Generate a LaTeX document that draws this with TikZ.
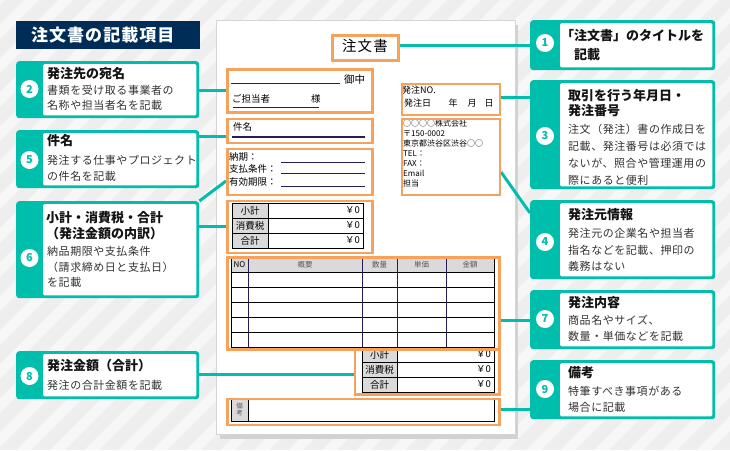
\documentclass[tikz,border=0pt]{standalone}
\usepackage{fontspec}
\setmainfont{Noto Sans CJK JP}
\usetikzlibrary{calc}
\definecolor{teal1}{RGB}{0,190,172}
\definecolor{orange1}{RGB}{247,162,92}
\definecolor{navy1}{RGB}{0,45,88}
\definecolor{lnavy}{RGB}{35,30,90}
\definecolor{bgc}{RGB}{238,238,238}
\definecolor{stripec}{RGB}{247,247,247}
\definecolor{bodyc}{RGB}{50,50,50}
\definecolor{cellgray}{RGB}{218,218,218}
\definecolor{shadowc}{RGB}{210,210,210}
\definecolor{paperedge}{RGB}{212,212,212}
\definecolor{hdrtxt}{RGB}{90,90,90}
\pgfdeclarelayer{bg}
\pgfdeclarelayer{paper}
\pgfdeclarelayer{conns}
\pgfsetlayers{bg,paper,conns,main}

\newcommand\mycallout[8]{%
  \node[tealbox, minimum width=#4, minimum height=#5] (#1) at (#2,#3) {};
  \fill[white, rounded corners=1.5pt] ([xshift=#6, yshift=-3]#1.north west) rectangle ([xshift=-3, yshift=3]#1.south east);
  \node[numcirc] (#1n) at ({#2+#6/2},#8) {#7};
}

\begin{document}
\begin{tikzpicture}[x=1pt,y=-1pt,
  tealbox/.style={draw=none, fill=teal1, rounded corners=3pt, anchor=north west, inner sep=0pt},
  numcirc/.style={circle, fill=white, minimum size=18pt, inner sep=0pt, text=teal1, font=\bfseries\fontsize{11}{11}\selectfont},
  tt/.style={inner sep=0pt, text=black!92, align=left, font=\bfseries\fontsize{13}{#1}\selectfont},
  tt/.default=15,
  bd/.style={inner sep=0pt, text=bodyc, align=left, anchor=north west, font=\fontsize{11}{#1}\selectfont\addfontfeature{LetterSpace=5}},
  obox/.style={draw=orange1, line width=2.5pt, anchor=north west, inner sep=0pt, fill=none},
  conn/.style={draw=teal1, line width=3pt},
  ps/.style={inner sep=0pt, text=black, font=\fontsize{9.5}{11}\selectfont},
  cellt/.style={inner sep=0pt, text=black, font=\fontsize{9.5}{10}\selectfont},
  hdrt/.style={inner sep=0pt, text=hdrtxt, font=\fontsize{7.5}{8}\selectfont},
  navyline/.style={draw=lnavy, line width=1pt},
  tline/.style={draw=black, line width=1pt},
]
\useasboundingbox (0,0) rectangle (730,450);

% background with stripes
\begin{pgfonlayer}{bg}
  \begin{scope}
    \clip (0,0) rectangle (730,450);
    \fill[bgc] (0,0) rectangle (730,450);
    \foreach \i in {-460,-426,...,740} {
      \fill[stripec] (\i,450) -- ({\i+15},450) -- ({\i+465},0) -- ({\i+450},0) -- cycle;
    }
  \end{scope}
\end{pgfonlayer}

% paper
\begin{pgfonlayer}{paper}
  \fill[shadowc] (220,25) rectangle (518,439);
  \fill[white] (216,20) rectangle (515,434);
  \draw[paperedge, line width=0.8pt] (216,20) rectangle (515,434);
\end{pgfonlayer}

% header
\node[fill=navy1, minimum width=184, minimum height=28, anchor=north west, inner sep=0pt] (hdrbox) at (16,21) {};
\node[inner sep=0pt, anchor=west, text=white, font=\bfseries\fontsize{17}{17}\selectfont\addfontfeature{LetterSpace=6}] (hdrtext) at (31,35) {注文書の記載項目};

% callout boxes
\mycallout{box2}{16}{61}{183}{57}{27}{2}{89}
\mycallout{box5}{16}{130}{183}{58}{27}{5}{160}
\mycallout{box6}{16}{201}{183}{97}{27}{6}{258}
\mycallout{box8}{16}{351}{183}{48}{27}{8}{376}
\mycallout{box1}{530}{20}{185}{50}{30}{1}{43}
\mycallout{box3}{530}{80}{185}{109}{30}{3}{136}
\mycallout{box4}{530}{200}{185}{79}{30}{4}{242}
\mycallout{box7}{530}{290}{185}{59}{30}{7}{319}
\mycallout{box9}{530}{360}{185}{59}{30}{9}{389}

% callout texts
\node[tt, anchor=west] (t2) at (47,74) {発注先の宛名};
\node[bd=15] (b2) at (47,85.5) {書類を受け取る事業者の\\名称や担当者名を記載};
\node[tt, anchor=west] (t5) at (47,141) {件名};
\node[bd=16] (b5) at (47,155.5) {発注する仕事やプロジェクト\\の件名を記載};
\node[tt=16, anchor=north west] (t6) at (46,211.5) {小計・消費税・合計\\（発注金額の内訳）};
\node[bd=15.5] (b6) at (47,246.5) {納品期限や支払条件\\（請求締め日と支払日）\\を記載};
\node[tt, anchor=west] (t8) at (47,366) {発注金額（合計）};
\node[bd=15, anchor=west] (b8) at (47,385) {発注の合計金額を記載};

\node[tt=19, anchor=north west] (t1) at (561,29.5) {「注文書」のタイトルを\\　記載};
\node[tt=15, anchor=north west] (t3) at (568,89.5) {取引を行う年月日・\\発注番号};
\node[bd=17] (b3) at (568,123.5) {注文（発注）書の作成日を\\記載、発注番号は必須では\\ないが、照合や管理運用の\\際にあると便利};
\node[tt, anchor=west] (t4) at (568,215) {発注元情報};
\node[bd=16.5] (b4) at (568,228.5) {発注元の企業名や担当者\\指名などを記載、押印の\\義務はない};
\node[tt, anchor=west] (t7) at (568,303) {発注内容};
\node[bd=16] (b7) at (568,314.5) {商品名やサイズ、\\数量・単価などを記載};
\node[tt, anchor=west] (t9) at (568,373) {備考};
\node[bd=16] (b9) at (568,385.5) {特筆すべき事項がある\\場合に記載};

% ---------- paper contents ----------
% title
\node[inner sep=0pt, text=black, font=\fontsize{14.5}{15}\selectfont\addfontfeature{LetterSpace=8}] (ptitle) at (365,46) {注文書};

% addressee
\draw[navyline] (231,83) -- (340,83);
\node[ps, anchor=west, font=\fontsize{10.5}{11}\selectfont] (onchu) at (344,80) {御中};
\node[ps, anchor=west] (tanto) at (232,99) {ご担当者};
\node[ps, anchor=west] (sama) at (311,99) {様};
\draw[navyline, line width=0.9pt] (233,107) -- (319,107);

% subject
\node[ps, anchor=west] (kmlab) at (233,127) {件名};
\draw[navyline, line width=2pt] (232,137) -- (365,137);

% delivery etc
\node[ps, anchor=west] (nk1) at (229,157) {納期：};
\node[ps, anchor=west] (nk2) at (229,169) {支払条件：};
\node[ps, anchor=west] (nk3) at (229,181.5) {有効期限：};
\draw[navyline] (281,162) -- (365,162);
\draw[navyline] (281,173) -- (365,173);
\draw[navyline] (281,186) -- (365,186);

% order no / date
\node[ps, anchor=west, font=\fontsize{9}{10}\selectfont] (hno) at (402,90) {発注NO.};
\node[ps, anchor=west, font=\fontsize{9}{10}\selectfont] (hdate) at (404,103) {発注日};
\node[ps, font=\fontsize{9}{10}\selectfont] (yr) at (453,103) {年};
\node[ps, font=\fontsize{9}{10}\selectfont] (mo) at (472,103) {月};
\node[ps, font=\fontsize{9}{10}\selectfont] (dy) at (489,103) {日};

% company info
\node[ps, anchor=north west, align=left, font=\fontsize{8}{10}\selectfont] (cinfo) at (403,119.5) {○○○○株式会社\\〒150-0002\\東京都渋谷区渋谷○○\\TEL：\\FAX：\\Email\\担当};

% subtotal table
\fill[cellgray] (232,203) rectangle (268,248);
\draw[tline] (232,218) -- (363,218);
\draw[tline] (232,233) -- (363,233);
\draw[tline] (268,203) -- (268,248);
\draw[tline] (232,203) rectangle (363,248);
\node[cellt] (s1l) at (250,210.5) {小計};
\node[cellt] (s2l) at (250,225.5) {消費税};
\node[cellt] (s3l) at (250,240.5) {合計};
\node[cellt, anchor=east] (s1v) at (360,210.5) {￥0};
\node[cellt, anchor=east] (s2v) at (360,225.5) {￥0};
\node[cellt, anchor=east] (s3v) at (360,240.5) {￥0};

% items table
\fill[cellgray] (231,258) rectangle (494,272);
\foreach \yy in {272,287,302,317,332} { \draw[tline] (231,\yy) -- (494,\yy); }
\foreach \xx in {248,362,397,446} { \draw[navyline] (\xx,258) -- (\xx,347); }
\draw[tline] (231,258) rectangle (494,347);
\node[hdrt, text=black, font=\fontsize{8}{8}\selectfont] (hno2) at (239.5,265) {NO};
\node[hdrt] (hgy) at (305,265) {概要};
\node[hdrt] (hsr) at (379.5,265) {数量};
\node[hdrt] (htk) at (421.5,265) {単価};
\node[hdrt] (hkg) at (470,265) {金額};

% totals table
\fill[cellgray] (362,347) rectangle (397,392);
\draw[tline] (362,362) -- (494,362);
\draw[tline] (362,377) -- (494,377);
\draw[tline] (397,347) -- (397,392);
\draw[tline] (362,347) rectangle (494,392);
\node[cellt] (g1l) at (379.5,354.5) {小計};
\node[cellt] (g2l) at (379.5,369.5) {消費税};
\node[cellt] (g3l) at (379.5,384.5) {合計};
\node[cellt, anchor=east] (g1v) at (491,354.5) {￥0};
\node[cellt, anchor=east] (g2v) at (491,369.5) {￥0};
\node[cellt, anchor=east] (g3v) at (491,384.5) {￥0};

% remarks table
\fill[cellgray] (231,399) rectangle (248,421);
\draw[tline] (248,399) -- (248,421);
\draw[tline] (231,399) rectangle (494,421);
\node[hdrt, align=center, font=\fontsize{6.5}{7}\selectfont] (bk) at (239.5,410) {備\\考};

% orange boxes
\node[obox, minimum width=66, minimum height=25] (ttlbox) at (331,34) {};
\node[obox, minimum width=145, minimum height=43] (addr) at (226,68) {};
\node[obox, minimum width=145, minimum height=24] (kenmei) at (226,117.5) {};
\node[obox, minimum width=145, minimum height=46] (noki) at (226,147.5) {};
\node[obox, minimum width=98, minimum height=31] (ordbox) at (400.5,82.5) {};
\node[obox, minimum width=98, minimum height=76] (comp) at (400.5,117.5) {};
\node[obox, minimum width=145, minimum height=52] (subt) at (226,199.5) {};
\node[obox, minimum width=272, minimum height=92] (items) at (226,256) {};
\node[obox, minimum width=144.5, minimum height=45] (tot) at (353.5,348) {};
\node[obox, minimum width=272, minimum height=26] (rem) at (226,397.5) {};

% connectors
\begin{pgfonlayer}{conns}
  \draw[conn] (box2.east |- addr.west) -- (addr.west);
  \draw[conn] (box5.east |- 0,136) -- (kenmei.west |- 0,136);
  \draw[conn] (box6.north east) -- (noki.west |- 0,181);
  \draw[conn] (box6.east |- 0,226) -- (subt.west |- 0,226);
  \draw[conn] (box8.east |- 0,374) -- (tot.west |- 0,374);
  \draw[conn] (ttlbox.east |- 0,45) -- (box1.west |- 0,45);
  \draw[conn] (ordbox.east |- 0,97) -- (box3.west |- 0,97);
  \draw[conn] (comp.east |- 0,172) -- (box4.west |- 0,213);
  \draw[conn] (items.east |- 0,320) -- (box7.west |- 0,320);
  \draw[conn] (rem.east |- 0,409) -- (box9.west |- 0,409);
\end{pgfonlayer}
\end{tikzpicture}
\end{document}
